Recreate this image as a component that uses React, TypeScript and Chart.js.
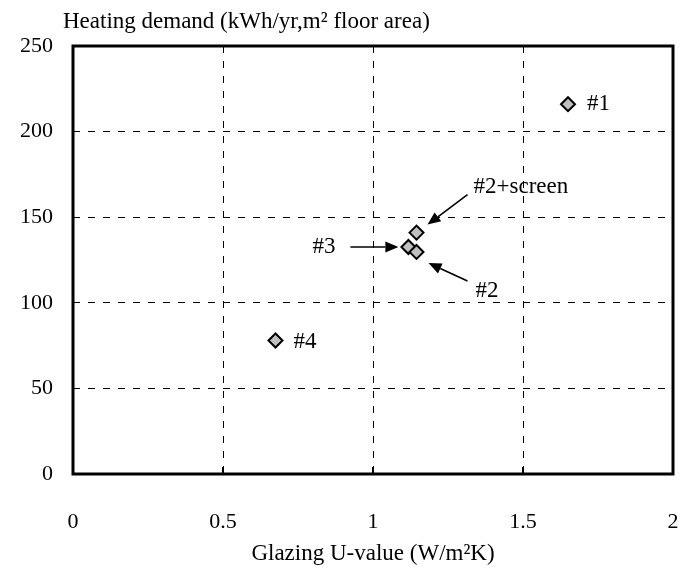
import React, { useEffect, useRef } from "react";
import { Chart, registerables } from "chart.js";

Chart.register(...registerables);

// ---- data ----
const uValues = [1.65, 1.145, 1.118, 1.145, 0.675];
const heatingDemand = [216, 141, 132.6, 129.7, 78];
const pointLabels = ["#1", "#2+screen", "#3", "#2", "#4"];
const xTicks = [0, 0.5, 1, 1.5, 2];
const yTicks = [0, 50, 100, 150, 200, 250];
const yTitle = "Heating demand (kWh/yr,m\u00B2 floor area)";
const xTitle = "Glazing U-value (W/m\u00B2K)";

// annotation layout (pixel offsets from each point): label anchor, arrow start/end
type Ann = { tx: number; ty: number; align: CanvasTextAlign; arrow?: [number, number, number, number] };
const annLayout: Ann[] = [
  { tx: 19, ty: 0, align: "left" },
  { tx: 57, ty: -46, align: "left", arrow: [51, -38, 11, -8] },
  { tx: -73, ty: 0, align: "right", arrow: [-58, 0, -10, 0] },
  { tx: 59, ty: 39, align: "left", arrow: [51, 29, 12, 11] },
  { tx: 18, ty: 1, align: "left" },
];

const FONT = "'Liberation Serif', 'DejaVu Serif', serif";
const FS = 22;
const FS_TITLE = 23;

const overlay = {
  id: "overlay",
  afterDraw(chart: any) {
    const { ctx, chartArea } = chart;
    const xs = chart.scales.x;
    ctx.save();
    // inward tick marks on bottom axis
    ctx.strokeStyle = "#000";
    ctx.lineWidth = 2;
    xTicks.forEach((v) => {
      const px = xs.getPixelForValue(v);
      ctx.beginPath();
      ctx.moveTo(px, chartArea.bottom);
      ctx.lineTo(px, chartArea.bottom - 7);
      ctx.stroke();
    });
    // frame
    ctx.lineWidth = 3;
    ctx.strokeRect(chartArea.left, chartArea.top, chartArea.right - chartArea.left, chartArea.bottom - chartArea.top);
    // y title
    ctx.fillStyle = "#000";
    ctx.font = `${FS_TITLE}px ${FONT}`;
    ctx.textAlign = "left";
    ctx.textBaseline = "middle";
    ctx.fillText(yTitle, 63, 22);
    // point labels and arrows
    ctx.font = `${FS_TITLE}px ${FONT}`;
    const meta = chart.getDatasetMeta(0);
    meta.data.forEach((el: any, i: number) => {
      const a = annLayout[i];
      const px = el.x;
      const py = el.y;
      ctx.textAlign = a.align;
      ctx.textBaseline = "middle";
      ctx.fillText(pointLabels[i], px + a.tx, py + a.ty);
      if (a.arrow) {
        const [x0, y0, x1, y1] = a.arrow;
        const sx = px + x0, sy = py + y0, ex = px + x1, ey = py + y1;
        const ang = Math.atan2(ey - sy, ex - sx);
        const hl = 13, hw = 5.5;
        const bx = ex - hl * Math.cos(ang), by = ey - hl * Math.sin(ang);
        ctx.lineWidth = 1.6;
        ctx.beginPath();
        ctx.moveTo(sx, sy);
        ctx.lineTo(bx, by);
        ctx.stroke();
        ctx.beginPath();
        ctx.moveTo(ex, ey);
        ctx.lineTo(bx + hw * Math.sin(ang), by - hw * Math.cos(ang));
        ctx.lineTo(bx - hw * Math.sin(ang), by + hw * Math.cos(ang));
        ctx.closePath();
        ctx.fill();
      }
    });
    ctx.restore();
  },
};

export default function App() {
  const ref = useRef<HTMLCanvasElement | null>(null);
  useEffect(() => {
    if (!ref.current) return;
    const chart = new Chart(ref.current, {
      type: "scatter",
      data: {
        datasets: [
          {
            data: uValues.map((x, i) => ({ x, y: heatingDemand[i] })),
            pointStyle: "rectRot",
            radius: 7,
            hoverRadius: 7,
            backgroundColor: "#bfbfbf",
            borderColor: "#000",
            borderWidth: 2,
          },
        ],
      },
      plugins: [overlay],
      options: {
        animation: false,
        responsive: true,
        maintainAspectRatio: false,
        layout: { padding: { top: 46, right: 9, left: 0, bottom: 0 } },
        plugins: { legend: { display: false }, tooltip: { enabled: false }, title: { display: false } },
        scales: {
          x: {
            type: "linear",
            min: 0,
            max: 2,
            afterFit: (s: any) => {
              s.height = 97;
              s.paddingLeft = 0;
              s.paddingRight = 0;
            },
            afterBuildTicks: (s: any) => { s.ticks = xTicks.map((v) => ({ value: v })); },
            grid: { color: "#000", lineWidth: 1, drawTicks: false },
            border: { display: false, dash: [7, 8] },
            ticks: { padding: 35, color: "#000", font: { family: FONT, size: FS }, callback: (v: any) => String(v) },
            title: { display: true, text: xTitle, color: "#000", font: { family: FONT, size: FS_TITLE }, padding: { top: 0, bottom: 3 } },
          },
          y: {
            type: "linear",
            min: 0,
            max: 250,
            afterFit: (s: any) => {
              s.width = 73;
              s.paddingTop = 0;
              s.paddingBottom = 0;
            },
            afterBuildTicks: (s: any) => { s.ticks = yTicks.map((v) => ({ value: v })); },
            grid: { color: "#000", lineWidth: 1, drawTicks: false },
            border: { display: false, dash: [7, 8] },
            ticks: { padding: 20, color: "#000", font: { family: FONT, size: FS } },
          },
        },
      },
    });
    return () => chart.destroy();
  }, []);
  return (
    <div style={{ position: "absolute", left: 0, top: 0, width: 682, height: 571, background: "#fff" }}>
      <canvas ref={ref} />
    </div>
  );
}
